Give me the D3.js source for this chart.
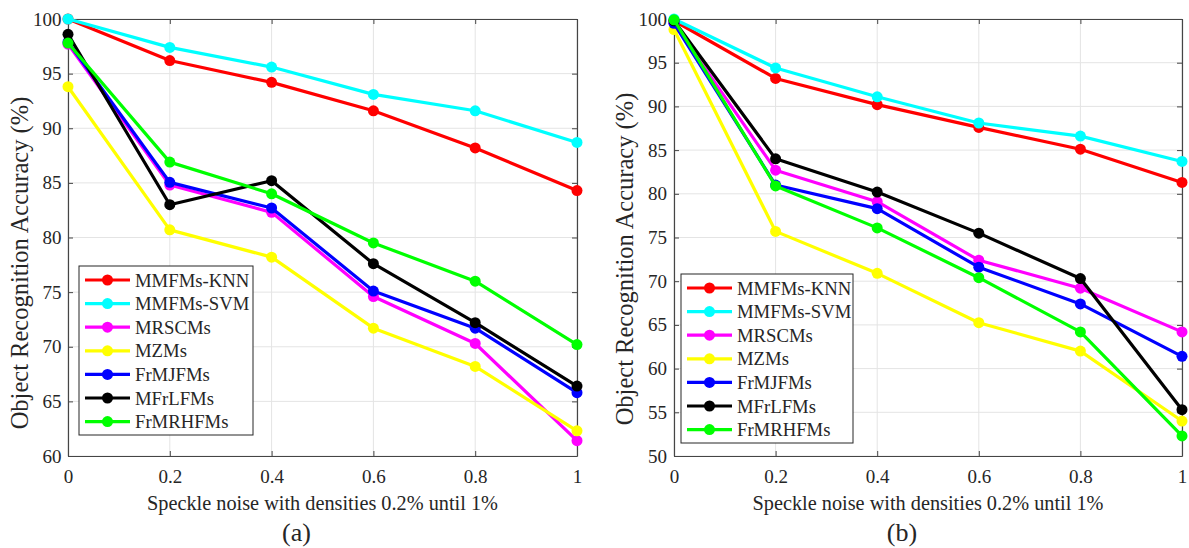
<!DOCTYPE html>
<html>
<head>
<meta charset="utf-8">
<script src="https://cdn.jsdelivr.net/npm/d3@7"></script>
<style>
  html, body { margin: 0; padding: 0; background: #fff; }
  svg text { font-family: "Liberation Serif", "Times New Roman", serif; fill: #262626; }
</style>
</head>
<body>
<svg id="chart" width="1189" height="548"></svg>
<script>
// ---------- data ----------
const xValues = [0, 0.2, 0.4, 0.6, 0.8, 1];
const xTickLabels = ["0", "0.2", "0.4", "0.6", "0.8", "1"];
const seriesNames = ["MMFMs-KNN", "MMFMs-SVM", "MRSCMs", "MZMs", "FrMJFMs", "MFrLFMs", "FrMRHFMs"];
const seriesColors = ["#ff0000", "#00ffff", "#ff00ff", "#ffff00", "#0000ff", "#000000", "#00ff00"];

// panel (a)
const knnA   = [100.0, 96.2, 94.2, 91.6, 88.2, 84.3];
const svmA   = [100.0, 97.4, 95.6, 93.1, 91.6, 88.7];
const mrscA  = [97.7, 84.8, 82.3, 74.6, 70.3, 61.4];
const mzmA   = [93.8, 80.7, 78.2, 71.7, 68.2, 62.3];
const frmjA  = [97.9, 85.05, 82.7, 75.1, 71.7, 65.8];
const mfrlA  = [98.6, 83.0, 85.2, 77.6, 72.2, 66.4];
const frmrhA = [97.8, 86.9, 84.0, 79.5, 76.0, 70.2];
const yTicksA = [60, 65, 70, 75, 80, 85, 90, 95, 100];

// panel (b)
const knnB   = [99.8, 93.2, 90.2, 87.6, 85.1, 81.3];
const svmB   = [100.0, 94.4, 91.1, 88.1, 86.6, 83.7];
const mrscB  = [99.5, 82.7, 79.1, 72.4, 69.2, 64.2];
const mzmB   = [98.8, 75.7, 70.9, 65.25, 62.0, 54.0];
const frmjB  = [99.5, 81.0, 78.3, 71.6, 67.4, 61.4];
const mfrlB  = [99.8, 84.0, 80.2, 75.5, 70.3, 55.3];
const frmrhB = [99.9, 80.9, 76.1, 70.4, 64.2, 52.3];
const yTicksB = [50, 55, 60, 65, 70, 75, 80, 85, 90, 95, 100];

const xLabel = "Speckle noise with densities 0.2% until 1%";
const yLabel = "Object Recognition Accuracy (%)";

// ---------- drawing ----------
const svg = d3.select("#chart");

function drawPanel(cfg) {
  const x = d3.scaleLinear().domain([0, 1]).range([cfg.left, cfg.right]);
  const y = d3.scaleLinear().domain(cfg.yDomain).range([cfg.bottom, cfg.top]);
  const g = svg.append("g");

  // grid
  g.append("g").selectAll("line").data(xValues).join("line")
    .attr("x1", d => x(d)).attr("x2", d => x(d))
    .attr("y1", cfg.top).attr("y2", cfg.bottom)
    .attr("stroke", "#e4e4e4").attr("stroke-width", 1);
  g.append("g").selectAll("line").data(cfg.yTicks).join("line")
    .attr("y1", d => y(d)).attr("y2", d => y(d))
    .attr("x1", cfg.left).attr("x2", cfg.right)
    .attr("stroke", "#e4e4e4").attr("stroke-width", 1);

  // axes (inward ticks, box)
  const tickLen = 5;
  const axB = d3.axisBottom(x).tickValues(xValues).tickFormat((d, i) => xTickLabels[i]).tickSizeInner(-tickLen).tickSizeOuter(0).tickPadding(13.5);
  const axL = d3.axisLeft(y).tickValues(cfg.yTicks).tickFormat(d3.format("d")).tickSizeInner(-tickLen).tickSizeOuter(0).tickPadding(cfg.yPad);
  const axT = d3.axisTop(x).tickValues(xValues).tickFormat("").tickSizeInner(-tickLen).tickSizeOuter(0);
  const axR = d3.axisRight(y).tickValues(cfg.yTicks).tickFormat("").tickSizeInner(-tickLen).tickSizeOuter(0);

  const styleAxis = sel => {
    sel.select(".domain").attr("stroke", "#454545").attr("stroke-width", 1.2);
    sel.selectAll(".tick line").attr("stroke", "#454545");
    sel.selectAll(".tick text").attr("font-size", 19).attr("fill", "#262626")
      .attr("font-family", "Liberation Serif, Times New Roman, serif");
  };
  g.append("g").attr("transform", `translate(0,${cfg.bottom})`).call(axB).call(styleAxis);
  g.append("g").attr("transform", `translate(${cfg.left},0)`).call(axL).call(styleAxis);
  g.append("g").attr("transform", `translate(0,${cfg.top})`).call(axT).call(styleAxis);
  g.append("g").attr("transform", `translate(${cfg.right},0)`).call(axR).call(styleAxis);

  // series
  const line = d3.line().x((d, i) => x(xValues[i])).y(d => y(d));
  cfg.series.forEach((vals, si) => {
    const sg = g.append("g");
    sg.append("path").datum(vals).attr("d", line)
      .attr("fill", "none").attr("stroke", seriesColors[si]).attr("stroke-width", 3.2)
      .attr("stroke-linejoin", "round");
    sg.selectAll("circle").data(vals).join("circle")
      .attr("cx", (d, i) => x(xValues[i])).attr("cy", d => y(d)).attr("r", 5.5)
      .attr("fill", seriesColors[si]);
  });

  // legend
  const lg = g.append("g");
  lg.append("rect").attr("x", cfg.legend.x).attr("y", cfg.legend.y)
    .attr("width", cfg.legend.w).attr("height", cfg.legend.h)
    .attr("fill", "#fff").attr("stroke", "#262626").attr("stroke-width", 1);
  seriesNames.forEach((name, i) => {
    const ry = cfg.legend.y + cfg.legend.firstRow + i * cfg.legend.rowGap;
    const lx0 = cfg.legend.x + 6, lx1 = cfg.legend.x + 51;
    lg.append("line").attr("x1", lx0).attr("x2", lx1).attr("y1", ry).attr("y2", ry)
      .attr("stroke", seriesColors[i]).attr("stroke-width", 3.2);
    lg.append("circle").attr("cx", (lx0 + lx1) / 2).attr("cy", ry).attr("r", 5.5)
      .attr("fill", seriesColors[i]);
    lg.append("text").attr("x", lx1 + 5).attr("y", ry).attr("dy", "0.35em")
      .attr("font-size", 18.7).text(name);
  });

  // axis labels
  g.append("text").attr("x", (cfg.left + cfg.right) / 2).attr("y", cfg.bottom + 54)
    .attr("text-anchor", "middle").attr("font-size", 20.3).text(xLabel);
  g.append("text").attr("transform", `translate(${cfg.left - cfg.yLabelOff},${cfg.yLabelCenter}) rotate(-90)`)
    .attr("text-anchor", "middle").attr("font-size", 24.5).text(yLabel);
  g.append("text").attr("x", (cfg.left + cfg.right) / 2 - 26).attr("y", 541)
    .attr("text-anchor", "middle").attr("font-size", 26).text(cfg.caption);
}

drawPanel({
  left: 68, right: 577, top: 19, bottom: 456, yDomain: [60, 100], yTicks: yTicksA,
  yPad: 6.5, yLabelOff: 40, yLabelCenter: 263,
  series: [knnA, svmA, mrscA, mzmA, frmjA, mfrlA, frmrhA],
  legend: { x: 79, y: 266, w: 174, h: 169, firstRow: 14, rowGap: 23.6 },
  caption: "(a)"
});
drawPanel({
  left: 674, right: 1182, top: 19, bottom: 456, yDomain: [50, 100], yTicks: yTicksB,
  yPad: 7, yLabelOff: 41, yLabelCenter: 259,
  series: [knnB, svmB, mrscB, mzmB, frmjB, mfrlB, frmrhB],
  legend: { x: 681, y: 274, w: 172, h: 169, firstRow: 14, rowGap: 23.6 },
  caption: "(b)"
});
</script>
</body>
</html>
